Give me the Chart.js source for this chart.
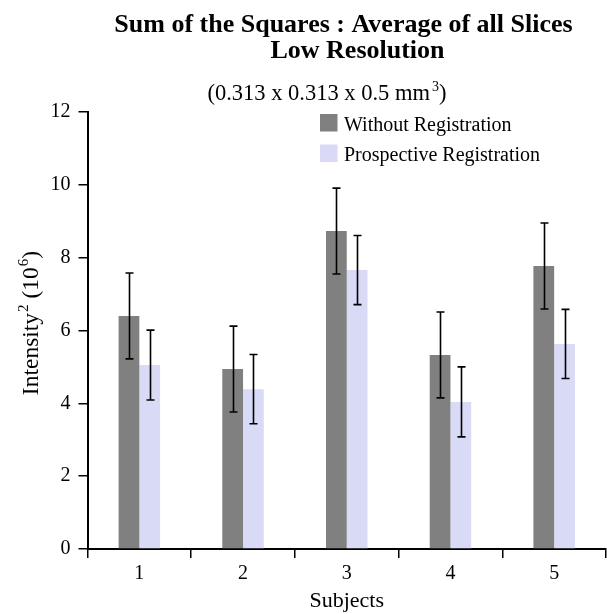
<!DOCTYPE html>
<html><head><meta charset="utf-8">
<script src="https://cdn.jsdelivr.net/npm/chart.js@4/dist/chart.umd.min.js"></script>
<style>html,body{margin:0;padding:0;background:#fff}#wrap{width:607px;height:614px;position:relative}</style>
</head><body><div id="wrap"><canvas id="c" width="607" height="614"></canvas></div>
<script>
const categories = ['1', '2', '3', '4', '5'];
const seriesNames = ['Without Registration', 'Prospective Registration'];
const withoutReg = [6.40, 4.94, 8.73, 5.33, 7.77];
const withoutErr = [1.18, 1.18, 1.18, 1.18, 1.18];
const prospReg = [5.05, 4.39, 7.66, 4.04, 5.63];
const prospErr = [0.96, 0.95, 0.95, 0.96, 0.95];
const yTicks = [0, 2, 4, 6, 8, 10, 12];
const titleLines = ['Sum of the Squares : Average of all Slices', 'Low Resolution'];
const subtitleMain = '(0.313 x 0.313 x 0.5 mm';
const subtitleSup = '3';
const subtitleEnd = ')';
const xTitle = 'Subjects';
const yTitleParts = [['Intensity', false], ['2', true], [' (10', false], ['6', true], [')', false]];

const colors = ['#808080', '#d9daf5'];
const errors = [withoutErr, prospErr];
const SERIF = "'Liberation Serif', 'Times New Roman', serif";

const errorBarPlugin = {
  id: 'errorBars',
  afterDatasetsDraw(chart) {
    const ctx = chart.ctx;
    const y = chart.scales.y;
    ctx.save();
    ctx.strokeStyle = '#000';
    ctx.lineWidth = 1.6;
    chart.data.datasets.forEach((ds, di) => {
      const meta = chart.getDatasetMeta(di);
      meta.data.forEach((bar, i) => {
        const v = ds.data[i], e = errors[di][i];
        const x = Math.round(bar.x) + 0.5;
        const yt = y.getPixelForValue(v + e), yb = y.getPixelForValue(v - e);
        ctx.beginPath();
        ctx.moveTo(x, yt); ctx.lineTo(x, yb);
        ctx.moveTo(x - 4, yt); ctx.lineTo(x + 4, yt);
        ctx.moveTo(x - 4, yb); ctx.lineTo(x + 4, yb);
        ctx.stroke();
      });
    });
    ctx.restore();
  }
};

const textPlugin = {
  id: 'texts',
  afterDraw(chart) {
    const ctx = chart.ctx;
    ctx.save();
    ctx.fillStyle = '#000';
    ctx.textBaseline = 'alphabetic';
    // Titles
    ctx.font = 'bold 26px ' + SERIF;
    ctx.textAlign = 'center';
    ctx.fillText(titleLines[0], 343.5, 31.5);
    ctx.fillText(titleLines[1], 357.5, 57.5);
    // Subtitle with superscript
    ctx.textAlign = 'left';
    ctx.font = '22.5px ' + SERIF;
    const w1 = ctx.measureText(subtitleMain).width;
    const w3 = ctx.measureText(subtitleEnd).width;
    ctx.font = '14px ' + SERIF;
    const w2 = ctx.measureText(subtitleSup).width;
    const total = w1 + 2 + w2 + w3;
    let sx = 327 - total / 2;
    ctx.font = '22.5px ' + SERIF;
    ctx.fillText(subtitleMain, sx, 100);
    ctx.font = '14px ' + SERIF;
    ctx.fillText(subtitleSup, sx + w1 + 2, 91);
    ctx.font = '22.5px ' + SERIF;
    ctx.fillText(subtitleEnd, sx + w1 + 2 + w2, 100);
    // Legend
    ctx.font = '20px ' + SERIF;
    const lg = [[114, 130.7], [144.5, 161]];
    chart.data.datasets.forEach((ds, i) => {
      ctx.fillStyle = ds.backgroundColor;
      ctx.fillRect(320, lg[i][0], 17.5, 17.5);
      ctx.fillStyle = '#000';
      ctx.fillText(ds.label, 344, lg[i][1]);
    });
    // X title
    ctx.textAlign = 'center';
    ctx.font = '22px ' + SERIF;
    ctx.fillText(xTitle, (chart.chartArea.left + chart.chartArea.right) / 2, 606.5);
    // Y title rotated
    ctx.translate(37.5, 323);
    ctx.rotate(-Math.PI / 2);
    ctx.textAlign = 'left';
    let widths = yTitleParts.map(([t, sup]) => { ctx.font = (sup ? '15px ' : '23.5px ') + SERIF; return ctx.measureText(t).width + (sup ? 1 : 0); });
    const tw = widths.reduce((a, b) => a + b, 0);
    let px = -tw / 2;
    yTitleParts.forEach(([t, sup], i) => {
      ctx.font = (sup ? '15px ' : '23.5px ') + SERIF;
      ctx.fillText(t, px + (sup ? 1 : 0), sup ? -10 : 0);
      px += widths[i];
    });
    ctx.restore();
  }
};

new Chart(document.getElementById('c'), {
  type: 'bar',
  data: {
    labels: categories,
    datasets: [
      { label: seriesNames[0], data: withoutReg, backgroundColor: colors[0], borderWidth: 0 },
      { label: seriesNames[1], data: prospReg, backgroundColor: colors[1], borderWidth: 0 }
    ]
  },
  options: {
    responsive: false,
    devicePixelRatio: 1,
    animation: false,
    layout: { padding: { top: 112, left: 0, right: 1, bottom: 0 } },
    datasets: { bar: { categoryPercentage: 0.4, barPercentage: 1.0 } },
    plugins: { legend: { display: false }, title: { display: false }, tooltip: { enabled: false } },
    scales: {
      x: {
        offset: true,
        grid: { offset: true, drawOnChartArea: false, drawTicks: true, tickLength: 9, color: '#000', lineWidth: 1.5 },
        border: { display: true, color: '#000', width: 2 },
        ticks: { color: '#000', font: { family: SERIF, size: 20 }, padding: 4 },
        afterFit: s => { s.height = 65; }
      },
      y: {
        min: 0, max: 12,
        afterBuildTicks: s => { s.ticks = yTicks.map(v => ({ value: v })); },
        grid: { drawOnChartArea: false, drawTicks: true, tickLength: 9, color: '#000', lineWidth: 1.5 },
        border: { display: true, color: '#000', width: 2 },
        ticks: { color: '#000', font: { family: SERIF, size: 20 }, padding: 8 },
        afterFit: s => { s.width = 87.5; }
      }
    }
  },
  plugins: [errorBarPlugin, textPlugin]
});
</script></body></html>
